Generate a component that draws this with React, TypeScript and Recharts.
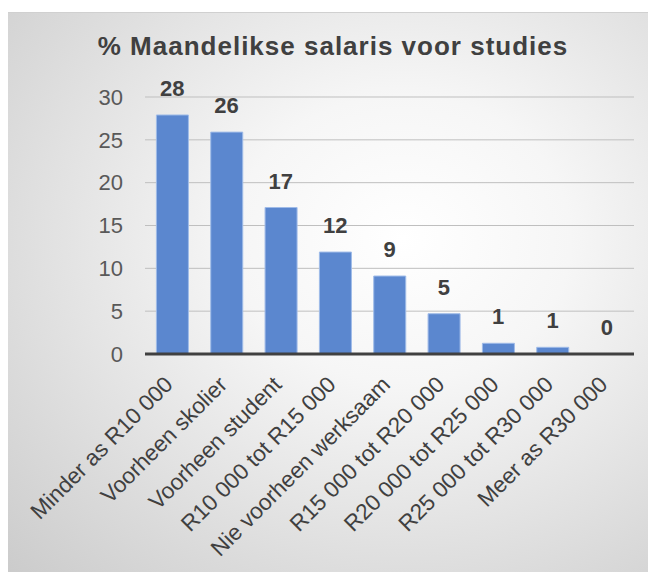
import React from 'react';
import { ComposedChart, Bar, Line, XAxis, YAxis, CartesianGrid, LabelList } from 'recharts';

const categories = [
  'Minder as R10 000',
  'Voorheen skolier',
  'Voorheen student',
  'R10 000 tot R15 000',
  'Nie voorheen werksaam',
  'R15 000 tot R20 000',
  'R20 000 tot R25 000',
  'R25 000 tot R30 000',
  'Meer as R30 000',
];
const percentages = [27.9, 25.9, 17.1, 11.9, 9.1, 4.7, 1.25, 0.78, 0];
const yTicks = [0, 5, 10, 15, 20, 25, 30];

const data = categories.map((name, i) => ({ name, value: percentages[i] }));

const FONT = '"Liberation Sans", Arial, sans-serif';

// category labels slanted at 45 degrees, ending under the bar centre
const RotatedTick = (props: any) => {
  const { x, y, payload } = props;
  return (
    <g transform={`translate(${x + 2},${y + 24})`}>
      <text
        x={0}
        y={0}
        textAnchor="end"
        transform="rotate(-45)"
        fill="#404040"
        fontSize={22.5}
        fontFamily={FONT}
      >
        {payload.value}
      </text>
    </g>
  );
};

export default function App() {
  return (
    <div style={{ position: 'relative', width: 656, height: 580, margin: -8, overflow: 'hidden', background: '#fff' }}>
      {/* chart area with soft radial fill */}
      <div
        style={{
          position: 'absolute',
          left: 6,
          top: 12,
          width: 660,
          height: 564,
          border: '1px solid #d0d0d0',
          background: 'radial-gradient(ellipse at 60% 40%, #ffffff 0%, #f6f6f6 30%, #dadada 75%, #cbcbcb 100%)',
        }}
      />
      <div
        style={{
          position: 'absolute',
          left: 6,
          top: 31,
          width: 654,
          textAlign: 'center',
          fontFamily: FONT,
          fontWeight: 'bold',
          fontSize: 26,
          letterSpacing: 1,
          color: '#404040',
        }}
      >
        % Maandelikse salaris voor studies
      </div>
      <div style={{ position: 'absolute', left: 0, top: 0 }}>
        <ComposedChart
          width={656}
          height={580}
          data={data}
          margin={{ top: 97, right: 22, left: 0, bottom: 26 }}
          barCategoryGap="21%"
        >
          <CartesianGrid vertical={false} stroke="#bfbfbf" strokeWidth={1} />
          <XAxis
            dataKey="name"
            interval={0}
            height={200}
            tickLine={false}
            axisLine={{ stroke: '#404040', strokeWidth: 3 }}
            tick={<RotatedTick />}
          />
          <YAxis
            width={145}
            domain={[0, 30]}
            ticks={yTicks}
            axisLine={false}
            tickLine={false}
            tickMargin={16}
            tick={{ fill: '#595959', fontSize: 22, fontFamily: FONT }}
          />
          <Bar dataKey="value" fill="#5b87cf" stroke="#9fbbe8" strokeWidth={1} isAnimationActive={false} />
          {/* invisible line only carries the value labels, so the 0 bar gets one too */}
          <Line
            dataKey="value"
            stroke="none"
            dot={false}
            activeDot={false}
            legendType="none"
            isAnimationActive={false}
          >
            <LabelList
              dataKey="value"
              position="top"
              offset={19}
              formatter={(v: any) => String(Math.round(Number(v)))}
              fill="#404040"
              fontSize={22}
              fontWeight="bold"
              fontFamily={FONT}
            />
          </Line>
        </ComposedChart>
      </div>
    </div>
  );
}
